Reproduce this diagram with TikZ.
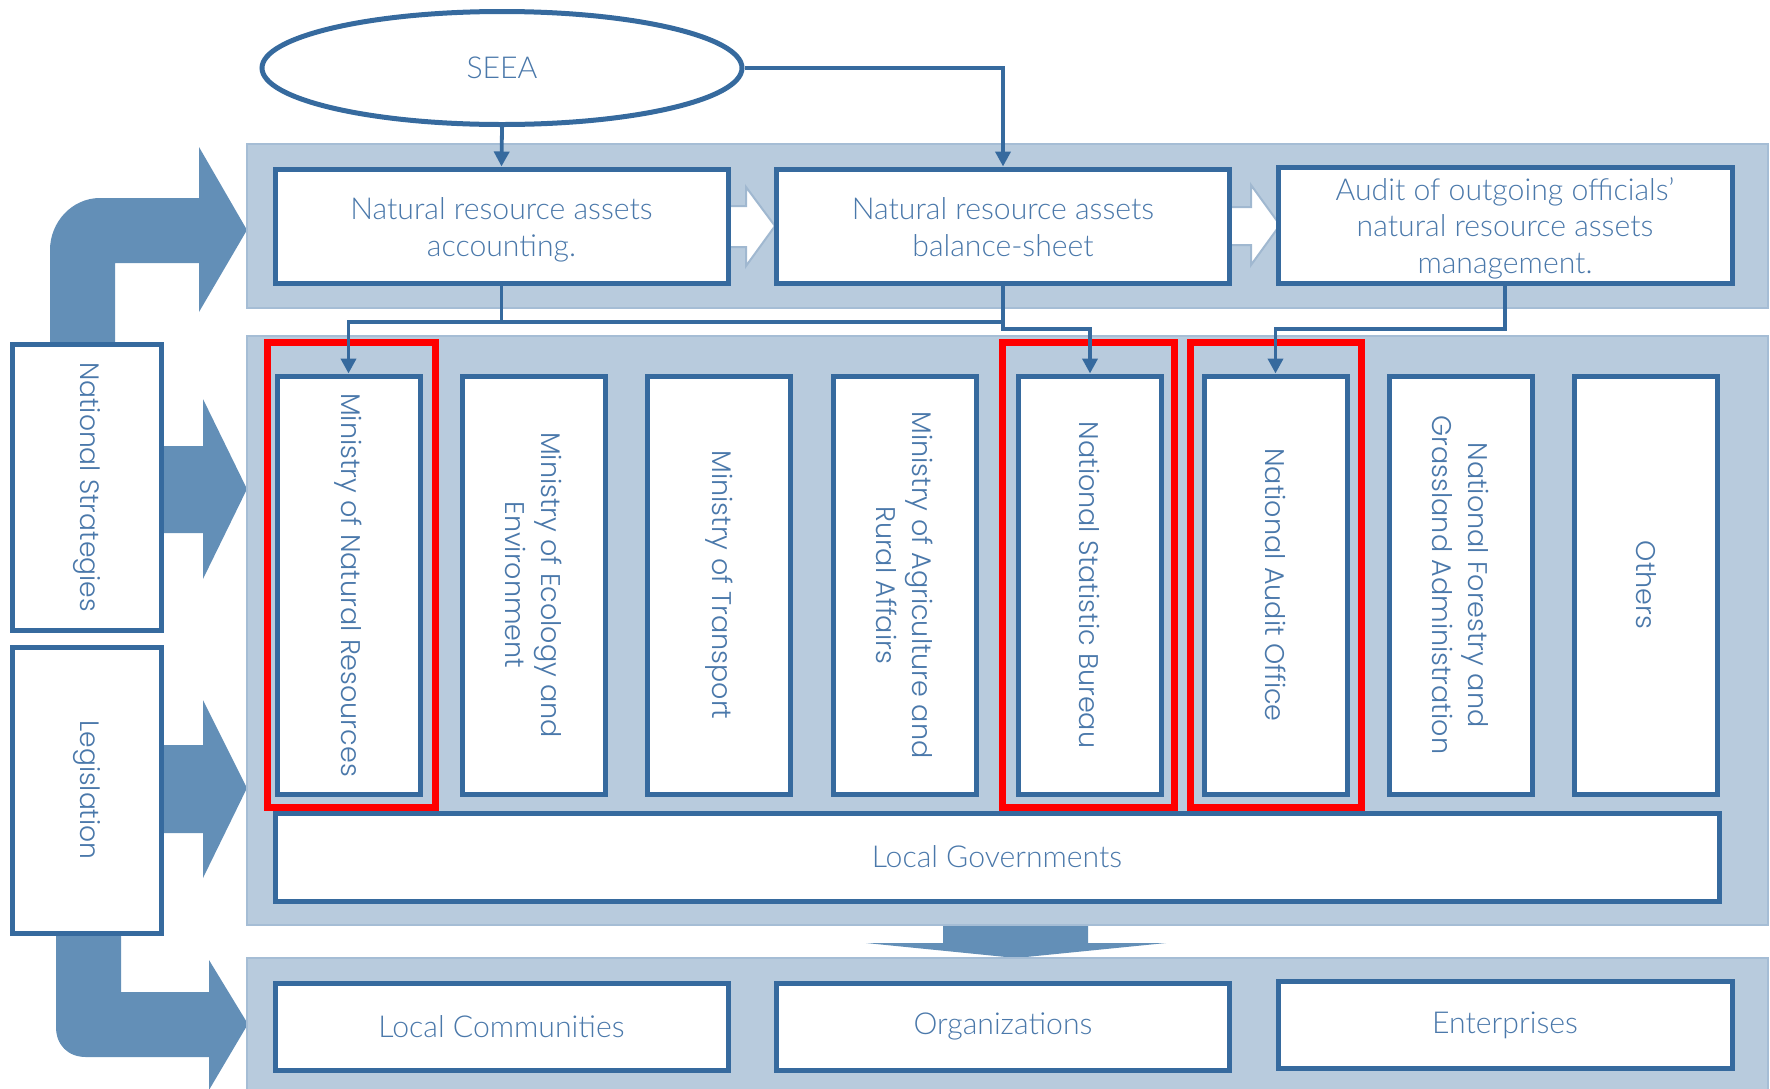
\documentclass[tikz,border=0pt]{standalone}
\usepackage{fontspec}
\IfFontExistsTF{Lato Light}{\setmainfont{Lato Light}\def\hfsz{15.1}}{\setmainfont{Carlito}\def\hfsz{15.4}}
\IfFontExistsTF{Poppins Light}{\newfontfamily\vfont{Poppins Light}}{\newfontfamily\vfont{Poppins}}
\newcommand\hlines[1]{\raisebox{-2.2pt}[\height][\depth]{\begin{tabular}{@{}c@{}}#1\end{tabular}}}
\usetikzlibrary{shapes.geometric,arrows.meta,calc}
\definecolor{lineblue}{RGB}{54,106,158}
\definecolor{txtblue}{RGB}{74,120,170}
\definecolor{bandfill}{RGB}{184,203,221}
\definecolor{bandedge}{RGB}{165,189,213}
\definecolor{arrowfill}{RGB}{99,143,183}
\definecolor{ghost}{RGB}{160,184,208}
\begin{document}
\begin{tikzpicture}[x=0.5pt,y=-0.5pt,
 box/.style={draw=lineblue, line width=2.5pt, fill=white, text=txtblue, inner sep=0pt, align=center, font=\fontsize{\hfsz}{18.3}\selectfont},
 vbox/.style={box, rotate=-90, minimum width=209pt, minimum height=71.5pt, font=\vfont\fontsize{13.5}{18}\selectfont},
 lbox/.style={box, rotate=-90, minimum width=143pt, minimum height=74.5pt, font=\vfont\fontsize{13.3}{18}\selectfont},
 hbox/.style={box, minimum width=226.5pt, minimum height=57pt},
 bbox/.style={box, minimum width=226.5pt, minimum height=43.5pt},
 band/.style={fill=bandfill, draw=bandedge, line width=1pt},
 bigarrow/.style={fill=arrowfill, draw=none},
 ghostarrow/.style={fill=white, draw=ghost, line width=1pt},
 conn/.style={draw=lineblue, line width=1.9pt},
 arr/.style={-{Triangle[length=7.5pt,width=7.5pt]}},
 redbox/.style={draw=red, line width=3.5pt}
]
\useasboundingbox (0,0) rectangle (1770,1088);
\clip (0,0) rectangle (1770,1088);

% big blue arrows
\path[bigarrow] (50,345) -- (50,250) .. controls (50,222) and (72,198) .. (100,198) -- (199,198) -- (199,147) -- (247,230) -- (199,312) -- (199,263) -- (115,263) -- (115,345) -- cycle;
\path[bigarrow] (56,930) -- (56,1027) .. controls (56,1045) and (68,1057) .. (86,1057) -- (209,1057) -- (209,1090) -- (248,1024) -- (209,960) -- (209,992) -- (121,992) -- (121,930) -- cycle;
\path[bigarrow] (155,446) -- (203,446) -- (203,399) -- (247,489) -- (203,579) -- (203,533) -- (155,533) -- cycle;
\path[bigarrow] (155,745) -- (203,745) -- (203,700) -- (247,788) -- (203,878) -- (203,833) -- (155,833) -- cycle;
\path[bigarrow] (943,920) -- (1088,920) -- (1088,943) -- (1166,943) -- (1016,958) -- (866,943) -- (943,943) -- cycle;

% bands
\path[band] (247,144) rectangle (1768,308);
\path[band] (247,336) rectangle (1768,925);
\path[band] (247,958) rectangle (1768,1095);

% ghost arrows between top boxes
\path[ghostarrow] (720,206) -- (746,206) -- (746,187) -- (775,226) -- (746,266) -- (746,247) -- (720,247) -- cycle;
\path[ghostarrow] (1222,207) -- (1251,207) -- (1251,185) -- (1280,225) -- (1251,265) -- (1251,245) -- (1222,245) -- cycle;

% red highlights
\draw[redbox] (267,342) rectangle (435,807);
\draw[redbox] (1002,342) rectangle (1174,807);
\draw[redbox] (1190,342) rectangle (1361,807);

% nodes
\node[box, ellipse, minimum width=240pt, minimum height=56.5pt] (seea) at (502,68) {SEEA};
\node[hbox] (nraa) at (501.5,226) {\hlines{Natural resource assets\\accounting.}};
\node[hbox] (bs) at (1003,226) {\hlines{Natural resource assets\\balance-sheet}};
\node[hbox, minimum width=227pt, minimum height=58pt] (audit) at (1505,225) {\hlines{Audit of outgoing officials’\\natural resource assets\\management.}};

\node[vbox] (mnr) at (348.5,585) {Ministry of Natural Resources};
\node[vbox] (mee) at (533.9,585) {Ministry of Ecology and\\Environment};
\node[vbox] (mot) at (719.3,585) {Ministry of Transport};
\node[vbox] (mara) at (904.7,585) {Ministry of Agriculture and\\Rural Affairs};
\node[vbox] (nsb) at (1090,585) {National Statistic Bureau};
\node[vbox] (nao) at (1275.5,585) {National Audit Office};
\node[vbox] (nfga) at (1460.9,585) {National Forestry and\\Grassland Administration};
\node[vbox] (oth) at (1646.3,585) {Others};

\node[box, minimum width=722pt, minimum height=44pt] (lg) at (997,857) {Local Governments};

\node[bbox] (lc) at (501.5,1026.5) {Local Communities};
\node[bbox] (org) at (1003,1026.5) {Organizations};
\node[bbox, minimum width=227pt] (ent) at (1505,1025) {Enterprises};

\node[lbox] (ns) at (86.5,487) {National Strategies};
\node[lbox] (leg) at (86.5,790) {Legislation};

% connectors
\coordinate (j1) at (0,322);
\coordinate (lvl) at (0,329);
\draw[conn, arr] (seea.south) -- (nraa.north);
\draw[conn, arr] (seea.east) -| (bs.north);
\draw[conn] (nraa.south) -- (nraa.south |- j1);
\draw[conn, arr] (bs.south) -- (bs.south |- lvl) -| (nsb.west);
\draw[conn, arr] (bs.south |- j1) -| (mnr.west);
\draw[conn, arr] (audit.south) -- (audit.south |- lvl) -| (nao.west);
\end{tikzpicture}
\end{document}
